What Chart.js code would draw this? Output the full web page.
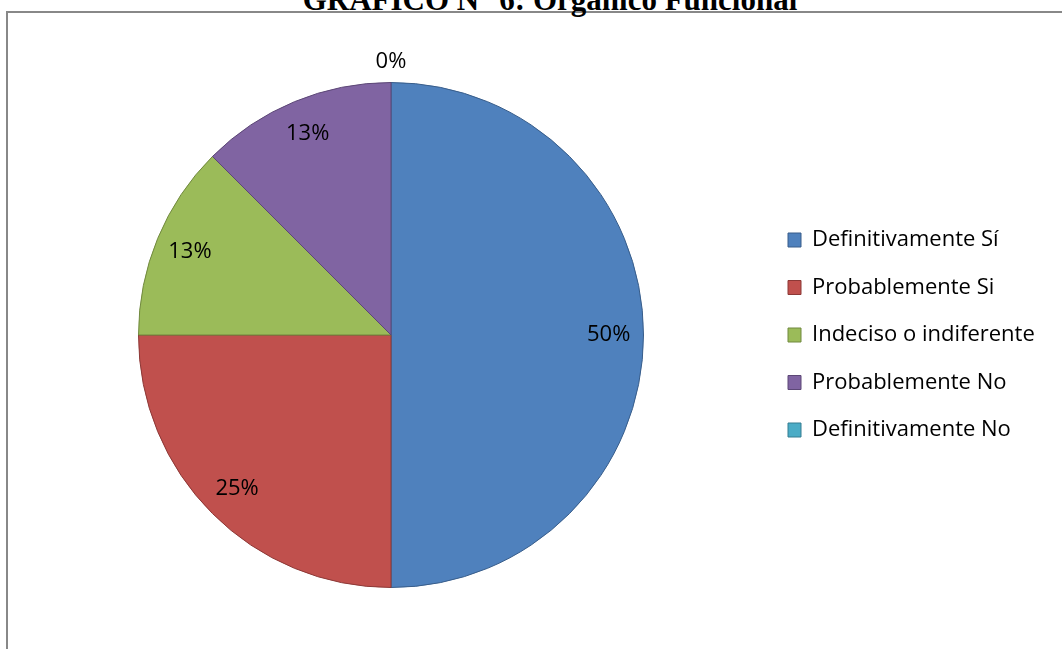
<!DOCTYPE html>
<html>
<head>
<meta charset="utf-8">
<script src="https://cdn.jsdelivr.net/npm/chart.js@4/dist/chart.umd.min.js"></script>
<style>
html, body { margin: 0; padding: 0; width: 1062px; height: 649px; overflow: hidden; background: #fff; }
#frame { position: absolute; left: 6px; top: 11px; width: 1200px; height: 800px; border: 2px solid #888; box-sizing: border-box; }
#title { position: absolute; left: 0; width: 1100px; top: -18px; text-align: center; font: bold 31px "Liberation Serif", serif; line-height: normal; color: #000; white-space: nowrap; }
#wrap { position: absolute; left: 0; top: 0; width: 1062px; height: 649px; }
</style>
</head>
<body>
<div id="frame"></div>
<div id="title">GRÁFICO N° 6: Orgánico Funcional</div>
<div id="wrap"><canvas id="pieChart"></canvas></div>
<script>
const categories = ["Definitivamente Sí", "Probablemente Si", "Indeciso o indiferente", "Probablemente No", "Definitivamente No"]
const values = [50, 25, 12.5, 12.5, 0]
const colors = ["#4F81BD", "#C0504D", "#9BBB59", "#8064A2", "#4BACC6"]
const edges = ["#385D8A", "#8C3836", "#71893F", "#5C4776", "#357D91"]

const fontSize = 22
const labelFont = fontSize + 'px "Open Sans"'

// measure widest legend text so the legend box lands where it should
const m = document.createElement("canvas").getContext("2d")
m.font = labelFont
const widest = Math.max(...categories.map(c => m.measureText(c).width))
const boxW = 13
const legendWidth = 27.5 + boxW + fontSize / 2 + widest + 10
const padRight = 1062 - 760.5 - legendWidth

// percentage labels on the slices
const sliceLabels = {
id: "sliceLabels",
afterDatasetsDraw(chart){
const ctx = chart.ctx
const meta = chart.getDatasetMeta(0)
ctx.save()
ctx.font = labelFont
ctx.fillStyle = "#000"
ctx.textAlign = "center"
ctx.textBaseline = "middle"
meta.data.forEach((arc, i) => {
const p = arc.getProps(["x", "y", "startAngle", "endAngle", "outerRadius"], true)
const mid = (p.startAngle + p.endAngle) / 2
const r = values[i] === 0 ? p.outerRadius + 21 : p.outerRadius * 0.862
ctx.fillText(Math.round(values[i]) + "%", p.x + Math.cos(mid) * r, p.y + Math.sin(mid) * r)
})
ctx.restore()
}
}

new Chart(document.getElementById("pieChart"), {
type: "pie",
data: {
labels: categories,
datasets: [{
data: values,
backgroundColor: colors,
borderColor: edges,
borderWidth: 1
}]
},
options: {
responsive: true,
maintainAspectRatio: false,
animation: false,
events: [],
layout: {
padding: { left: 19.5, right: padRight, top: 82, bottom: 61 }
},
plugins: {
legend: {
position: "right",
labels: {
boxWidth: boxW,
boxHeight: 14,
padding: 25.5,
color: "#000",
font: { family: "Open Sans", size: fontSize }
}
},
tooltip: { enabled: false }
}
},
plugins: [sliceLabels]
})
</script>
</body>
</html>
